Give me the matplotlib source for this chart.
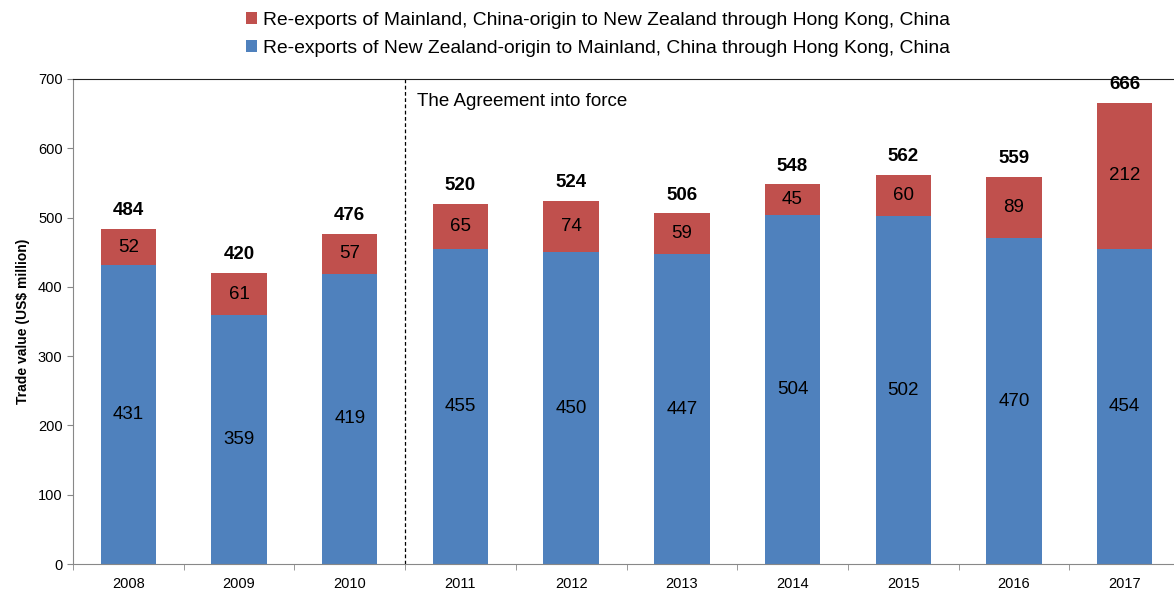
import numpy as np
import matplotlib.pyplot as plt

plt.rcParams['font.family'] = ['Liberation Sans', 'DejaVu Sans']

years = ['2008', '2009', '2010', '2011', '2012', '2013', '2014', '2015', '2016', '2017']
nz_origin = [431, 359, 419, 455, 450, 447, 504, 502, 470, 454]
cn_origin = [52, 61, 57, 65, 74, 59, 45, 60, 89, 212]
totals = [484, 420, 476, 520, 524, 506, 548, 562, 559, 666]

label_cn = 'Re-exports of Mainland, China-origin to New Zealand through Hong Kong, China'
label_nz = 'Re-exports of New Zealand-origin to Mainland, China through Hong Kong, China'
blue = '#4F81BD'
red = '#C0504D'

fig = plt.figure(figsize=(11.74, 5.92), dpi=100)
# axes runs a little past the right edge, as in the original
ax = fig.add_axes([73 / 1174, 28 / 592, 1107 / 1174, 485 / 592])

x = np.arange(len(years))
b1 = ax.bar(x, nz_origin, width=0.5, color=blue, label=label_nz)
b2 = ax.bar(x, cn_origin, width=0.5, bottom=nz_origin, color=red, label=label_cn)

for i in range(len(years)):
    ax.text(x[i], nz_origin[i] / 2, str(nz_origin[i]), ha='center', va='center', fontsize=13.5)
    ax.text(x[i], nz_origin[i] + cn_origin[i] / 2, str(cn_origin[i]), ha='center', va='center', fontsize=13.5)
    ax.annotate(str(totals[i]), (x[i], totals[i]), xytext=(0, 7), textcoords='offset points',
                ha='center', va='bottom', fontsize=13.5, fontweight='bold')

# agreement marker
ax.plot([2.5, 2.5], [0, 700], color='black', linestyle=(0, (3, 2)), linewidth=0.9)
ax.text(2.61, 667, 'The Agreement into force', fontsize=13.5, va='center', ha='left')

ax.set_xlim(-0.5, len(years) - 0.5)
ax.set_ylim(0, 700)
ax.set_yticks(range(0, 701, 100))
ax.set_xticks(x)
ax.set_xticklabels(years, fontsize=10.5)
ax.set_xticks(np.arange(-0.5, len(years), 1), minor=True)
ax.tick_params(axis='x', which='major', length=0, pad=9)
ax.tick_params(axis='x', which='minor', length=4, direction='out', color='#888888')
ax.tick_params(axis='y', labelsize=10.5, length=4, color='#888888')
ax.set_ylabel('Trade value (US$ million)', fontsize=10, fontweight='bold', labelpad=6)

ax.spines['left'].set_color('#888888')
ax.spines['bottom'].set_color('#888888')
ax.spines['top'].set_color('#222222')
ax.spines['right'].set_visible(False)

fig.legend([b2, b1], [label_cn, label_nz], loc='upper center', bbox_to_anchor=(598 / 1174, 1.0),
           ncol=1, frameon=False, fontsize=13.9, handlelength=0.6, handleheight=0.6,
           handletextpad=0.3, labelspacing=0.6, borderaxespad=0.2)

fig.savefig('out.png', dpi=100)
